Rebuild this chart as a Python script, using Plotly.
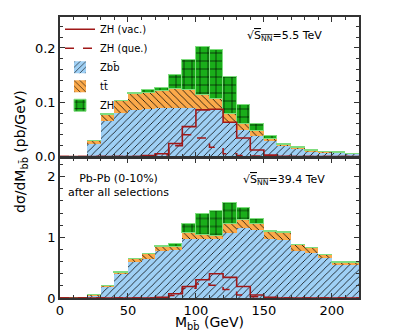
import numpy as np
import plotly.graph_objects as go
from plotly.subplots import make_subplots

# Bin edges (GeV), 10 GeV bins from 0 to 220
edges = list(range(0, 230, 10))

# sqrt(s_NN) = 5.5 TeV (top panel), pb/GeV
top_zbb = [0, 0, 0.023, 0.065, 0.080, 0.085, 0.087, 0.089, 0.090, 0.090, 0.086,
           0.085, 0.064, 0.048, 0.0385, 0.029, 0.020, 0.015, 0.010, 0.008, 0.0065, 0.005]
top_tt = [0, 0, 0.0055, 0.012, 0.0225, 0.0305, 0.030, 0.031, 0.034, 0.032, 0.028,
          0.021, 0.015, 0.011, 0.0085, 0.003, 0.002, 0.001, 0.001, 0.0005, 0.0005, 0.0003]
top_zh = [0, 0, 0.0005, 0.001, 0.0005, 0.0015, 0.005, 0.007, 0.026, 0.056, 0.088,
          0.090, 0.067, 0.035, 0.013, 0.005, 0.001, 0.001, 0.001, 0.0005, 0.0005, 0.0002]
top_vac = [0, 0, 0, 0, 0, 0, 0.002, 0.005, 0.024, 0.055, 0.086,
           0.087, 0.063, 0.034, 0.012, 0.0025, 0.0005, 0, 0, 0, 0, 0]
top_que = [0, 0, 0, 0, 0, 0, 0.001, 0.003, 0.020, 0.040, 0.034,
           0.017, 0.005, 0.002, 0.001, 0, 0, 0, 0, 0, 0, 0]

# sqrt(s_NN) = 39.4 TeV (bottom panel), pb/GeV
bot_zbb = [0, 0, 0.03, 0.18, 0.40, 0.59, 0.63, 0.77, 0.79, 0.96, 0.96,
           0.96, 1.06, 1.15, 1.12, 0.97, 0.95, 0.77, 0.74, 0.655, 0.545, 0.545]
bot_tt = [0, 0, 0.005, 0.01, 0.01, 0.04, 0.09, 0.07, 0.05, 0.10, 0.065,
          0.05, 0.15, 0.13, 0.10, 0.11, 0.12, 0.09, 0.07, 0.04, 0.03, 0.03]
bot_zh = [0, 0, 0.002, 0.003, 0.003, 0.003, 0.005, 0.01, 0.05, 0.16, 0.36,
          0.42, 0.35, 0.19, 0.07, 0.01, 0.005, 0.005, 0.005, 0.005, 0.005, 0.005]
bot_vac = [0, 0, 0, 0, 0, 0, 0, 0.01, 0.07, 0.19, 0.30,
           0.40, 0.34, 0.19, 0.05, 0.01, 0, 0, 0, 0, 0, 0]
bot_que = [0, 0, 0, 0, 0, 0, 0, 0.005, 0.04, 0.16, 0.23,
           0.21, 0.14, 0.05, 0.02, 0.005, 0, 0, 0, 0, 0, 0]

centers = (np.array(edges[:-1]) + np.array(edges[1:])) / 2.0
FONT = "DejaVu Sans"
RED = "#a01818"
BLUE = "#9fd0f5"
ORANGE = "#fba94a"
GREEN = "#1aae1a"

fig = make_subplots(rows=2, cols=1, shared_xaxes=True, vertical_spacing=0.007)

panels = [
    (1, top_zbb, top_tt, top_zh, top_vac, top_que),
    (2, bot_zbb, bot_tt, bot_zh, bot_vac, bot_que),
]
for row, zbb, tt, zh, vac, que in panels:
    show = row == 1
    # stacked histograms
    for name, vals, col, shape, size, rank, lcol in [
        ("Zbb\u0304", zbb, BLUE, "/", 5, 3, BLUE),
        ("tt\u0304", tt, ORANGE, "\\", 5, 4, ORANGE),
        ("ZH", zh, GREEN, "+", 8, 5, "#7fdc7f"),
    ]:
        fig.add_trace(
            go.Bar(
                x=centers, y=vals, width=10, name=name, showlegend=show,
                legendrank=rank,
                marker=dict(
                    color=col,
                    line=dict(width=1 if name == "ZH" else 0, color=lcol),
                    pattern=dict(shape=shape, fgcolor="black", bgcolor=col,
                                 size=size, solidity=0.15, fillmode="replace"),
                ),
            ),
            row=row, col=1,
        )
    # ZH step lines
    for name, vals, dash, rank in [("ZH (vac.)", vac, "solid", 1),
                                   ("ZH (que.)", que, "dash", 2)]:
        fig.add_trace(
            go.Scatter(
                x=edges, y=list(vals) + [vals[-1]], mode="lines", line_shape="hv",
                name=name, showlegend=show, legendrank=rank,
                line=dict(color=RED, width=1.6, dash=dash),
            ),
            row=row, col=1,
        )

axis_style = dict(
    showline=True, linecolor="#333333", linewidth=1.5, mirror="allticks",
    ticks="inside", ticklen=5, tickwidth=1, tickcolor="#333333",
    showgrid=False, zeroline=False,
    tickfont=dict(family=FONT, size=13, color="black"),
)
fig.update_xaxes(range=[0, 220], dtick=50,
                 minor=dict(dtick=10, ticks="inside", ticklen=3, tickcolor="#333333"),
                 **axis_style)
fig.update_xaxes(showticklabels=False, row=1, col=1)
fig.update_yaxes(**axis_style)
fig.update_yaxes(range=[0, 0.257], tickvals=[0, 0.1, 0.2], ticktext=["0.0", "0.1", "0.2"],
                 minor=dict(dtick=0.02, ticks="inside", ticklen=3, tickcolor="#333333"),
                 row=1, col=1)
fig.update_yaxes(range=[0, 2.3], tickvals=[0, 1, 2],
                 minor=dict(dtick=0.2, ticks="inside", ticklen=3, tickcolor="#333333"),
                 row=2, col=1)

fig.add_annotation(
    text="M<sub>bb\u0304</sub> (GeV)", xref="paper", yref="paper",
    x=0.5, y=-0.09, xanchor="center", yanchor="middle", showarrow=False,
    font=dict(family=FONT, size=14, color="black"),
)
fig.add_annotation(
    text="dσ/dM<sub>bb\u0304</sub> (pb/GeV)", textangle=-90, xref="paper", yref="paper",
    x=-0.13, y=0.52, xanchor="center", yanchor="middle", showarrow=False,
    font=dict(family=FONT, size=14, color="black"),
)
fig.add_annotation(
    text="\u221a<span style='text-decoration:overline'>S<sub>NN</sub></span>=5.5 TeV",
    xref="x", yref="y", x=165, y=0.222, showarrow=False,
    font=dict(family=FONT, size=11, color="black"),
)
fig.add_annotation(
    text="\u221a<span style='text-decoration:overline'>S<sub>NN</sub></span>=39.4 TeV",
    xref="x2", yref="y2", x=165, y=1.95, showarrow=False,
    font=dict(family=FONT, size=11, color="black"),
)
fig.add_annotation(
    text="Pb-Pb (0-10%)<br>after all selections",
    xref="x2", yref="y2", x=43, y=1.85, showarrow=False,
    font=dict(family=FONT, size=11, color="black"),
)

# the page body adds an 8 px offset, so the margins are shifted to compensate
fig.update_layout(
    width=399, height=332, barmode="stack", bargap=0,
    margin=dict(l=52, r=48, t=9, b=42, autoexpand=False),
    paper_bgcolor="white", plot_bgcolor="white",
    legend=dict(x=0.0, y=1.008, xanchor="left", yanchor="top",
                bgcolor="rgba(0,0,0,0)", traceorder="normal",
                font=dict(family=FONT, size=10, color="black"),
                tracegroupgap=0, itemwidth=30),
)
fig.write_html("out.html")
